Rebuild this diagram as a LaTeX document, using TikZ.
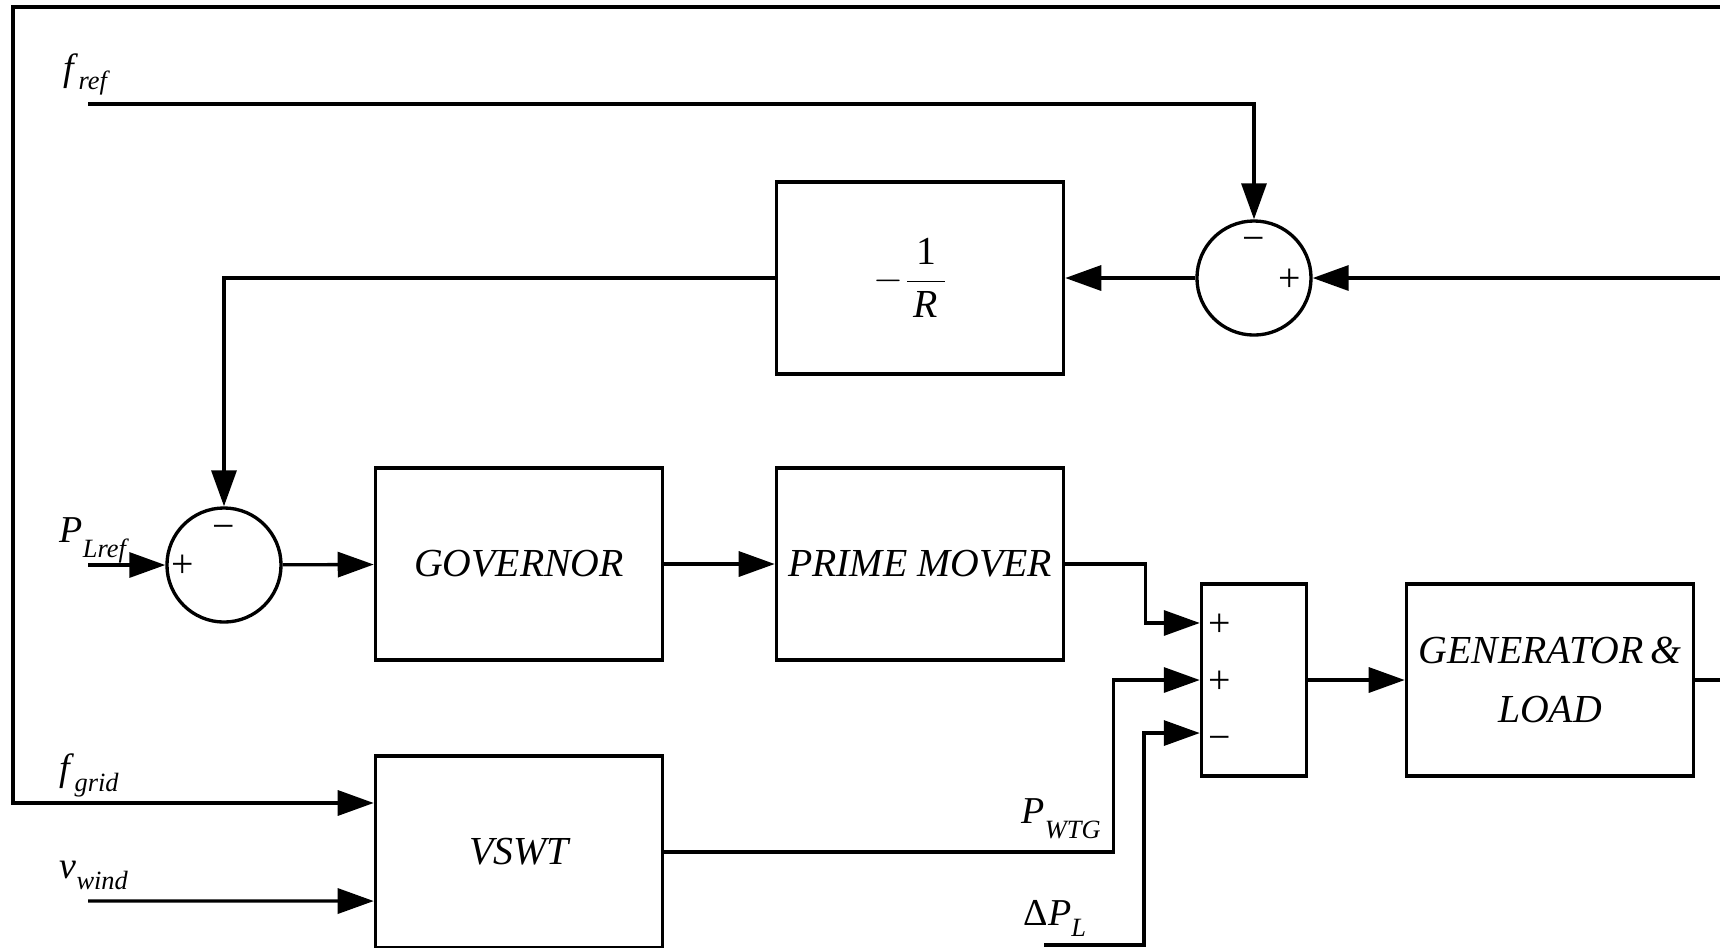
\documentclass[tikz,border=0pt]{standalone}
\usepackage{fontspec}
\setmainfont{Liberation Serif}
\usepackage{amsmath}
\usetikzlibrary{arrows.meta}
\newcommand{\sg}[3][0.42em]{\textit{#2}\raisebox{-#1}{\fontsize{7.5}{8}\selectfont\textit{#3}}}

\begin{document}
\begin{tikzpicture}[x=0.01cm, y=-0.01cm, line width=0.95pt,
  font=\fontsize{11.3}{17}\selectfont\itshape,
  blk/.style={draw, minimum width=2.87cm, minimum height=1.92cm, inner sep=0pt, align=center},
  sumc/.style={draw, circle, minimum size=1.14cm, inner sep=0pt},
  sumb/.style={draw, minimum width=1.05cm, minimum height=1.92cm, inner sep=0pt},
  sgn/.style={inner sep=0pt, font=\fontsize{11.3}{12}\selectfont},
  lbl/.style={anchor=base west, inner sep=0pt, font=\fontsize{10.8}{12}\selectfont},
  arr/.style={-{Triangle[length=3.6mm, width=2.5mm]}}]
\useasboundingbox (0,0) rectangle (1720,947);
\node[sumc] (sum1) at (1254,278) {};
\node[sumc] (sum2) at (224,565) {};
\node[blk] (rbox) at (920,278) {$-\dfrac{\,\textup{1}\,}{\,\textit{R}\,}$\hspace*{0.18cm}};
\node[blk] (gov) at (519,564) {GOVERNOR};
\node[blk] (pm) at (920,564) {PRIME MOVER};
\node[sumb] (add) at (1254,680) {};
\node[blk] (gen) at (1550,680) {GENERATOR\,\&\\LOAD};
\node[blk] (vswt) at (519,852) {VSWT};
\node[sgn] (s1m) at (1254,244) {−};
\node[sgn] (s1p) at (1290,280) {+};
\node[sgn] (s2m) at (224,532) {−};
\node[sgn] (s2p) at (183,566) {+};
\node[sgn] (a1) at (1220,625) {+};
\node[sgn] (a2) at (1220,682) {+};
\node[sgn] (a3) at (1220,743) {−};
\node[lbl] (lfref) at (62,80) {\sg[0.25em]{f}{ref}};
\node[lbl] (lplref) at (58,542) {\sg{P}{Lref}};
\node[lbl] (lfgrid) at (58,780) {\sg[0.3em]{f}{grid}};
\node[lbl] (lvwind) at (58,878) {\sg[0.3em]{v}{wind}};
\node[lbl] (lpwtg) at (1020,823) {\sg{P}{WTG}};
\node[lbl] (ldpl) at (1022,925) {Δ\sg[0.3em]{P}{L}};
\coordinate (fref) at (88,104);
\coordinate (plref) at (88,565);
\coordinate (vwind) at (88,901);
\coordinate (tl) at (13,7);
\coordinate (topR) at (1720,7);
\coordinate (fbR) at (1720,278);
\coordinate (genR) at (1720,680);
\coordinate (dpl) at (1044,945);
\foreach \u/\v in {sum1/rbox, plref/sum2, sum2/gov, gov/pm, add/gen, fbR/sum1} \draw[arr] (\u) -- (\v);
\draw[arr] (fref) -| (sum1.north);
\draw[arr] (rbox.west) -| (sum2.north);
\draw[arr] (pm.east) -- ++(80,0) |- ([yshift=0.57cm]add.west);
\draw[arr] (vswt.east) -- ++(449,0) |- (add.west);
\draw[arr] (dpl) -- ++(100,0) |- ([yshift=-0.53cm]add.west);
\draw (gen.east) -- (genR);
\draw[arr] (topR) -- (tl) |- ([yshift=0.49cm]vswt.west);
\draw[arr] (vwind) -- ([yshift=-0.49cm]vswt.west);
\end{tikzpicture}
\end{document}
